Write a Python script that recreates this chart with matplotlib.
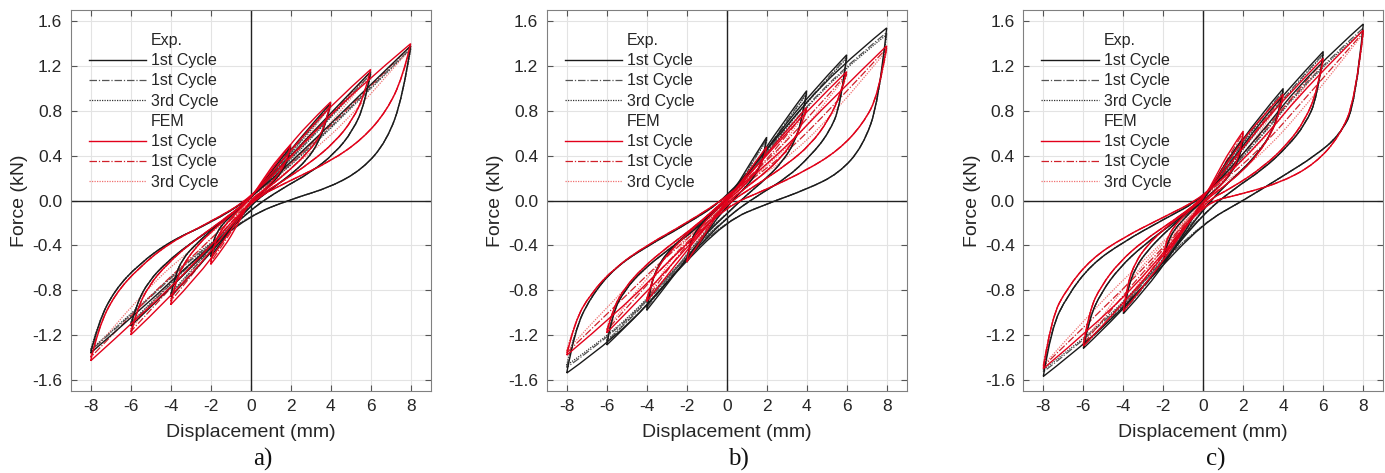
import matplotlib
matplotlib.use("Agg")
import matplotlib.pyplot as plt
from matplotlib.lines import Line2D
from matplotlib.path import Path
from matplotlib.patches import PathPatch

plt.rcParams['font.family'] = ['Liberation Sans', 'DejaVu Sans']
plt.rcParams['axes.unicode_minus'] = False

"----------------------------------- Data -----------------------------------"

AMPS = [2, 4, 6, 8]                              # mm
LOAD_FRAC = [1 / 3, 2 / 3, 1.0]                  # of amplitude, 0 -> peak
UNLOAD_FRAC = [0.95, 0.85, 0.7, 0.5, 0.25, 0.0]  # of amplitude, peak -> 0
PANEL_LABELS = ['a)', 'b)', 'c)']
CYCLE_LABELS = ['1st Cycle', '1st Cycle', '3rd Cycle']

# force (kN); *_LOAD: cycle x amplitude x LOAD_FRAC,
# *_UNLOAD: amplitude x UNLOAD_FRAC (same for all cycles)

# ---- a) ----
A_EXP_POS_LOAD = [
    [[0.17, 0.33, 0.48], [0.30, 0.60, 0.87], [0.40, 0.78, 1.15], [0.45, 0.92, 1.38]],
    [[0.15, 0.31, 0.47], [0.28, 0.57, 0.85], [0.37, 0.75, 1.13], [0.42, 0.89, 1.36]],
    [[0.14, 0.30, 0.46], [0.27, 0.56, 0.84], [0.36, 0.74, 1.12], [0.41, 0.88, 1.35]]]
A_EXP_POS_UNLOAD = [[0.40, 0.30, 0.22, 0.14, 0.06, -0.02], [0.72, 0.52, 0.36, 0.23, 0.10, -0.04],
                    [0.86, 0.62, 0.42, 0.25, 0.10, -0.08], [0.92, 0.53, 0.28, 0.12, 0.01, -0.13]]
A_EXP_NEG_LOAD = [
    [[-0.18, -0.34, -0.50], [-0.33, -0.60, -0.86], [-0.42, -0.78, -1.12], [-0.50, -0.95, -1.36]],
    [[-0.16, -0.32, -0.48], [-0.30, -0.57, -0.84], [-0.39, -0.75, -1.10], [-0.47, -0.92, -1.34]],
    [[-0.15, -0.31, -0.47], [-0.29, -0.56, -0.83], [-0.38, -0.74, -1.09], [-0.46, -0.91, -1.33]]]
A_EXP_NEG_UNLOAD = [[-0.38, -0.29, -0.21, -0.14, -0.06, 0.02], [-0.68, -0.52, -0.40, -0.27, -0.13, 0.02],
                    [-0.92, -0.72, -0.55, -0.38, -0.20, 0.02], [-1.08, -0.80, -0.57, -0.36, -0.20, 0.02]]

A_FEM_POS_LOAD = [
    [[0.20, 0.37, 0.50], [0.35, 0.65, 0.88], [0.45, 0.85, 1.17], [0.52, 1.00, 1.40]],
    [[0.17, 0.33, 0.49], [0.30, 0.58, 0.86], [0.38, 0.76, 1.15], [0.44, 0.90, 1.38]],
    [[0.14, 0.30, 0.48], [0.25, 0.52, 0.85], [0.32, 0.68, 1.13], [0.37, 0.80, 1.36]]]
A_FEM_POS_UNLOAD = [[0.42, 0.32, 0.24, 0.15, 0.07, 0.01], [0.72, 0.55, 0.42, 0.28, 0.13, 0.00],
                    [0.95, 0.72, 0.52, 0.34, 0.16, 0.00], [1.10, 0.80, 0.55, 0.35, 0.18, 0.00]]
A_FEM_NEG_LOAD = [
    [[-0.22, -0.42, -0.57], [-0.36, -0.68, -0.93], [-0.46, -0.86, -1.20], [-0.54, -1.00, -1.43]],
    [[-0.19, -0.38, -0.55], [-0.31, -0.60, -0.90], [-0.40, -0.78, -1.17], [-0.46, -0.90, -1.40]],
    [[-0.16, -0.34, -0.53], [-0.26, -0.54, -0.88], [-0.34, -0.70, -1.15], [-0.39, -0.80, -1.37]]]
A_FEM_NEG_UNLOAD = [[-0.45, -0.34, -0.25, -0.16, -0.07, 0.02], [-0.75, -0.58, -0.43, -0.28, -0.13, 0.02],
                    [-0.98, -0.76, -0.57, -0.38, -0.19, 0.02], [-1.13, -0.84, -0.60, -0.37, -0.19, 0.02]]

# ---- b) ----
B_EXP_POS_LOAD = [
    [[0.18, 0.38, 0.565], [0.30, 0.66, 0.98], [0.46, 0.92, 1.30], [0.60, 1.15, 1.54]],
    [[0.16, 0.36, 0.55], [0.28, 0.63, 0.96], [0.43, 0.89, 1.28], [0.56, 1.11, 1.50]],
    [[0.15, 0.35, 0.54], [0.27, 0.62, 0.95], [0.42, 0.88, 1.27], [0.55, 1.10, 1.48]]]
B_EXP_POS_UNLOAD = [[0.45, 0.32, 0.22, 0.13, 0.04, -0.06], [0.75, 0.52, 0.35, 0.20, 0.05, -0.12],
                    [0.85, 0.60, 0.40, 0.20, 0.04, -0.15], [0.88, 0.48, 0.24, 0.10, -0.03, -0.18]]
B_EXP_NEG_LOAD = [
    [[-0.20, -0.38, -0.55], [-0.35, -0.68, -0.98], [-0.52, -0.95, -1.29], [-0.66, -1.20, -1.54]],
    [[-0.18, -0.36, -0.53], [-0.33, -0.65, -0.96], [-0.49, -0.92, -1.26], [-0.62, -1.15, -1.49]],
    [[-0.17, -0.35, -0.52], [-0.32, -0.64, -0.95], [-0.48, -0.91, -1.25], [-0.61, -1.14, -1.47]]]
B_EXP_NEG_UNLOAD = [[-0.43, -0.32, -0.24, -0.16, -0.08, 0.00], [-0.75, -0.57, -0.43, -0.30, -0.15, 0.00],
                    [-1.00, -0.80, -0.62, -0.45, -0.25, 0.00], [-1.16, -0.86, -0.60, -0.41, -0.21, 0.02]]

B_FEM_POS_LOAD = [
    [[0.15, 0.32, 0.48], [0.27, 0.56, 0.83], [0.40, 0.80, 1.15], [0.42, 0.92, 1.38]],
    [[0.13, 0.29, 0.47], [0.24, 0.50, 0.81], [0.35, 0.72, 1.13], [0.37, 0.84, 1.36]],
    [[0.11, 0.26, 0.46], [0.20, 0.45, 0.80], [0.30, 0.65, 1.12], [0.32, 0.76, 1.34]]]
B_FEM_POS_UNLOAD = [[0.40, 0.32, 0.24, 0.16, 0.07, 0.00], [0.70, 0.55, 0.40, 0.26, 0.12, -0.02],
                    [0.95, 0.72, 0.50, 0.32, 0.14, -0.03], [0.95, 0.68, 0.45, 0.27, 0.10, -0.05]]
B_FEM_NEG_LOAD = [
    [[-0.18, -0.37, -0.55], [-0.30, -0.60, -0.90], [-0.42, -0.82, -1.18], [-0.50, -0.98, -1.38]],
    [[-0.16, -0.34, -0.54], [-0.26, -0.54, -0.88], [-0.37, -0.75, -1.16], [-0.44, -0.90, -1.36]],
    [[-0.14, -0.31, -0.53], [-0.22, -0.48, -0.87], [-0.32, -0.68, -1.15], [-0.38, -0.82, -1.34]]]
B_FEM_NEG_UNLOAD = [[-0.45, -0.35, -0.26, -0.17, -0.08, 0.00], [-0.75, -0.58, -0.45, -0.30, -0.14, 0.01],
                    [-0.97, -0.78, -0.60, -0.42, -0.22, 0.02], [-1.08, -0.83, -0.60, -0.40, -0.20, 0.03]]

# ---- c) ----
C_EXP_POS_LOAD = [
    [[0.20, 0.40, 0.56], [0.38, 0.72, 1.00], [0.50, 0.95, 1.33], [0.55, 1.15, 1.575]],
    [[0.18, 0.38, 0.55], [0.35, 0.69, 0.98], [0.47, 0.92, 1.31], [0.52, 1.11, 1.54]],
    [[0.17, 0.37, 0.54], [0.34, 0.68, 0.97], [0.46, 0.91, 1.30], [0.51, 1.10, 1.52]]]
C_EXP_POS_UNLOAD = [[0.45, 0.34, 0.25, 0.16, 0.08, 0.00], [0.80, 0.60, 0.44, 0.28, 0.12, -0.08],
                    [0.92, 0.68, 0.48, 0.28, 0.10, -0.12], [0.85, 0.58, 0.40, 0.22, 0.00, -0.20]]
C_EXP_NEG_LOAD = [
    [[-0.20, -0.40, -0.56], [-0.40, -0.75, -1.01], [-0.55, -0.98, -1.32], [-0.70, -1.20, -1.57]],
    [[-0.18, -0.38, -0.55], [-0.37, -0.72, -0.99], [-0.52, -0.95, -1.30], [-0.66, -1.16, -1.53]],
    [[-0.17, -0.37, -0.54], [-0.36, -0.71, -0.98], [-0.51, -0.94, -1.29], [-0.65, -1.15, -1.51]]]
C_EXP_NEG_UNLOAD = [[-0.45, -0.34, -0.25, -0.17, -0.08, 0.00], [-0.80, -0.60, -0.45, -0.30, -0.14, 0.00],
                    [-1.05, -0.82, -0.60, -0.40, -0.20, 0.00], [-1.14, -0.85, -0.57, -0.37, -0.17, 0.02]]

C_FEM_POS_LOAD = [
    [[0.23, 0.45, 0.62], [0.38, 0.70, 0.95], [0.48, 0.90, 1.27], [0.48, 1.05, 1.52]],
    [[0.20, 0.41, 0.61], [0.33, 0.63, 0.93], [0.42, 0.82, 1.25], [0.42, 0.96, 1.50]],
    [[0.17, 0.37, 0.60], [0.28, 0.56, 0.92], [0.36, 0.74, 1.24], [0.36, 0.88, 1.49]]]
C_FEM_POS_UNLOAD = [[0.48, 0.36, 0.26, 0.16, 0.07, 0.00], [0.78, 0.60, 0.43, 0.27, 0.12, -0.01],
                    [0.98, 0.72, 0.50, 0.30, 0.12, -0.02], [0.90, 0.57, 0.33, 0.17, 0.06, -0.02]]
C_FEM_NEG_LOAD = [
    [[-0.18, -0.35, -0.50], [-0.36, -0.70, -0.99], [-0.50, -0.92, -1.30], [-0.62, -1.10, -1.50]],
    [[-0.16, -0.32, -0.49], [-0.32, -0.63, -0.97], [-0.44, -0.84, -1.28], [-0.55, -1.02, -1.48]],
    [[-0.14, -0.29, -0.48], [-0.28, -0.57, -0.96], [-0.38, -0.77, -1.27], [-0.48, -0.94, -1.47]]]
C_FEM_NEG_UNLOAD = [[-0.40, -0.30, -0.22, -0.14, -0.06, 0.01], [-0.75, -0.55, -0.40, -0.26, -0.12, 0.02],
                    [-0.98, -0.76, -0.55, -0.36, -0.18, 0.02], [-1.05, -0.78, -0.52, -0.33, -0.15, 0.03]]

PANELS = [
    ((A_EXP_POS_LOAD, A_EXP_POS_UNLOAD, A_EXP_NEG_LOAD, A_EXP_NEG_UNLOAD),
     (A_FEM_POS_LOAD, A_FEM_POS_UNLOAD, A_FEM_NEG_LOAD, A_FEM_NEG_UNLOAD)),
    ((B_EXP_POS_LOAD, B_EXP_POS_UNLOAD, B_EXP_NEG_LOAD, B_EXP_NEG_UNLOAD),
     (B_FEM_POS_LOAD, B_FEM_POS_UNLOAD, B_FEM_NEG_LOAD, B_FEM_NEG_UNLOAD)),
    ((C_EXP_POS_LOAD, C_EXP_POS_UNLOAD, C_EXP_NEG_LOAD, C_EXP_NEG_UNLOAD),
     (C_FEM_POS_LOAD, C_FEM_POS_UNLOAD, C_FEM_NEG_LOAD, C_FEM_NEG_UNLOAD)),
]

"---------------------------------- Styles ----------------------------------"

EXP_STYLES = [dict(color='#1a1a1a', ls='-', lw=1.0),
              dict(color='#555555', ls=(0, (6, 1.5, 1, 1.5)), lw=0.9),
              dict(color='#333333', ls=(0, (1, 1)), lw=0.9)]
FEM_STYLES = [dict(color='#e2001a', ls='-', lw=1.0),
              dict(color='#d0202a', ls=(0, (6, 1.5, 1, 1.5)), lw=0.9),
              dict(color='#f07070', ls=(0, (1, 1)), lw=0.9)]
TXT = '#262626'


def smooth(pts):
    # quadratic bezier through the midpoints, sharp only at the two ends
    verts, codes = [], []
    for i in range(1, len(pts) - 1):
        if i < len(pts) - 2:
            end = ((pts[i][0] + pts[i + 1][0]) / 2, (pts[i][1] + pts[i + 1][1]) / 2)
        else:
            end = pts[-1]
        verts += [pts[i], end]
        codes += [Path.CURVE3, Path.CURVE3]
    return verts, codes


def loop_path(amp, pl, pu, nl, nu):
    # neg peak -> neg unloading -> pos loading -> pos peak
    arc1 = [(-amp, nl[-1])] + [(-amp * f, v) for f, v in zip(UNLOAD_FRAC, nu)] + \
           [(amp * f, v) for f, v in zip(LOAD_FRAC, pl)]
    # pos peak -> pos unloading -> neg loading -> neg peak
    arc2 = [(amp, pl[-1])] + [(amp * f, v) for f, v in zip(UNLOAD_FRAC, pu)] + \
           [(-amp * f, v) for f, v in zip(LOAD_FRAC, nl)]
    v1, c1 = smooth(arc1)
    v2, c2 = smooth(arc2)
    return Path([arc1[0]] + v1 + v2, [Path.MOVETO] + c1 + c2)


def draw_cycle(ax, arrays, styles, c):
    pos_load, pos_unload, neg_load, neg_unload = arrays
    s = styles[c]
    for i, amp in enumerate(AMPS):
        p = loop_path(amp, pos_load[c][i], pos_unload[i],
                      neg_load[c][i], neg_unload[i])
        ax.add_patch(PathPatch(p, fill=False, edgecolor=s['color'],
                               linestyle=s['ls'], linewidth=s['lw'], zorder=2))


"---------------------------------- Figure ----------------------------------"

fig = plt.figure(figsize=(13.85, 4.73), dpi=100)
lefts = [70.7, 546.7, 1023.3]

for k, (exp, fem) in enumerate(PANELS):
    ax = fig.add_axes([lefts[k] / 1385, 82 / 473, 360 / 1385, 381 / 473])
    ax.set_xlim(-9, 9)
    ax.set_ylim(-1.7, 1.7)
    ax.set_xticks(range(-8, 9, 2))
    ax.set_yticks([-1.6, -1.2, -0.8, -0.4, 0.0, 0.4, 0.8, 1.2, 1.6])
    ax.set_yticklabels([f'{v:.1f}' for v in ax.get_yticks()])
    ax.grid(True, color='#e3e3e3', lw=0.8)
    ax.set_axisbelow(True)
    ax.tick_params(direction='in', top=True, right=True, length=4,
                   labelsize=12.5, colors='#555555', labelcolor=TXT, pad=6)
    for s in ax.spines.values():
        s.set_color('#808080')
    ax.axhline(0, color='#222222', lw=1.0, zorder=1.5)
    ax.axvline(0, color='#222222', lw=1.0, zorder=1.5)

    # later cycles underneath, 1st cycles on top
    for c in (2, 1):
        draw_cycle(ax, exp, EXP_STYLES, c)
        draw_cycle(ax, fem, FEM_STYLES, c)
    draw_cycle(ax, exp, EXP_STYLES, 0)
    draw_cycle(ax, fem, FEM_STYLES, 0)

    ax.set_xlabel('Displacement (mm)', fontsize=14, color=TXT, labelpad=7)
    ax.set_ylabel('Force (kN)', fontsize=14, color=TXT, labelpad=3)

    blank = Line2D([], [], color='none')
    handles = [blank] + [Line2D([], [], **s) for s in EXP_STYLES] + \
              [blank] + [Line2D([], [], **s) for s in FEM_STYLES]
    labels = ['Exp.'] + CYCLE_LABELS + ['FEM'] + CYCLE_LABELS
    ax.legend(handles, labels, loc='upper left', bbox_to_anchor=(0.05, 0.94),
              frameon=False, fontsize=11.5, handlelength=3.6, handletextpad=0.3,
              labelspacing=0.33, borderaxespad=0.0, borderpad=0.0, labelcolor=TXT)

    fig.text((lefts[k] + 192) / 1385, 14 / 473, PANEL_LABELS[k],
             family=['Liberation Serif', 'DejaVu Serif'], fontsize=18,
             ha='center', va='center', color='#111111')

fig.savefig('out.png', dpi=100)
